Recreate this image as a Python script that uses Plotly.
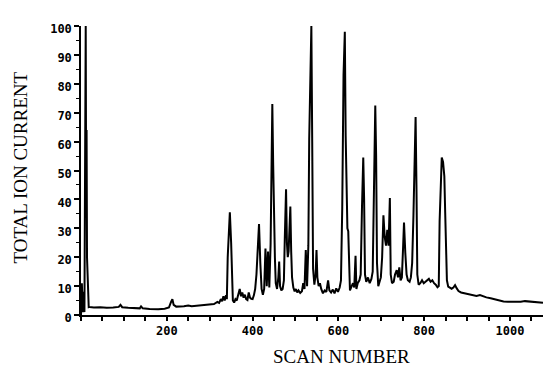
import plotly.graph_objects as go

# Total ion current chromatogram: scan number vs. relative intensity (%)
scan = [
    0, 2, 4, 6, 8, 11, 12, 13, 14, 15, 16, 18,
    20, 30, 45, 60, 75, 88, 92, 96, 110, 125, 137, 140, 144, 160, 180, 195,
    205, 210, 213, 216, 222, 240, 250, 258, 270, 285, 300, 310, 318, 322,
    326, 329, 332, 335, 338, 340, 342, 344, 347, 350, 352, 354, 357, 360,
    363, 367, 370, 373, 376, 379, 382, 385, 388, 391, 394, 397, 400, 403,
    406, 409, 412, 415, 418, 421, 424, 427, 430, 433, 436, 439, 442, 444,
    446, 448, 450, 452, 454, 457, 460, 462, 464, 467, 470, 473, 475, 478,
    480, 482, 484, 486, 488, 490, 492, 495, 498, 501, 504, 507, 511, 515,
    518, 521, 524, 527, 530, 532, 535, 537, 539, 541, 544, 547, 549, 551,
    554, 557, 560, 564, 568, 572, 576, 579, 583, 587, 591, 595, 599, 603,
    606, 609, 612, 615, 617, 619, 621, 623, 625, 627, 631, 634, 637, 640,
    642, 645, 649, 652, 655, 658, 660, 662, 665, 669, 673, 677, 680, 683,
    686, 688, 690, 693, 696, 699, 702, 705, 708, 711, 714, 717, 720, 722,
    725, 729, 732, 736, 739, 742, 745, 748, 751, 753, 756, 759, 762, 766,
    769, 772, 775, 778, 780, 782, 784, 787, 791, 795, 799, 803, 807, 811,
    815, 819, 823, 827, 831, 834, 836, 839, 841, 844, 847, 849, 851, 853,
    856, 860, 864, 868, 872, 876, 880, 886, 893, 900, 908, 915, 922, 930,
    937, 945, 955, 965, 975, 985, 995, 1005, 1015, 1025, 1035, 1045, 1055,
    1065, 1077,
]
tic = [
    0, 11, 1, 8, 1, 100, 40, 64, 20, 15, 5, 2.7,
    2.8, 2.6, 2.7, 2.5, 2.6, 2.8, 3.5, 2.7, 2.5, 2.4, 2.3, 3.0, 2.3, 2.1, 2.0, 2.2,
    2.6, 4.5, 5.5, 3.5, 2.9, 3.0, 3.3, 3.0, 3.2, 3.4, 3.6, 3.8, 4.5, 4.2,
    5.5, 4.8, 6.5, 5.0, 6.8, 5.5, 20, 26, 35.5, 25, 12, 5, 4.3, 5.5,
    5.0, 7.5, 9, 6.5, 7.8, 6.0, 7.0, 5.5, 5.2, 7.8, 6.0, 5.6, 5.5, 6.8,
    9, 14, 22, 31.5, 18, 9, 7, 9, 23, 10, 22, 9.5, 24.5, 56,
    73, 52, 30, 20, 11, 9, 13, 18.5, 10, 8.5, 9, 12, 26, 43.5,
    25, 20, 22, 31, 37.5, 22, 13, 9.5, 8.2, 9.0, 7.8, 8.5, 7.6, 8.2,
    11, 9, 22.5, 10, 24, 61, 85, 100, 60, 16, 10.5, 14, 22.5, 13,
    10, 11, 9, 7.5, 8.5, 8, 12, 8.5, 7.8, 8.8, 7.5, 9.2, 8.0, 9.5,
    12, 37, 83, 98, 62, 47, 30, 29, 14, 8.5, 10, 11, 9.5, 20.5,
    9, 11, 12, 14, 37, 54.5, 40, 14, 11.5, 13, 11, 12.5, 15, 47.5,
    72.5, 55, 18, 10, 11.5, 13, 20, 34.5, 27, 24, 29.5, 24, 40.5, 14,
    11, 11.5, 14, 15.5, 13, 16.5, 12, 13, 24, 32, 21.5, 14, 12, 11.5,
    13, 18, 34.5, 55, 68.5, 45, 14, 10.5, 11, 12, 11, 11.5, 12, 12.5,
    11.5, 12, 11, 10.5, 9.6, 10, 32.5, 48, 54.5, 53, 48, 35.5, 21.5, 12,
    9.8, 9.3, 9.1, 9.5, 10.3, 9.2, 8.3, 7.8, 7.6, 7.3, 7.0, 6.8, 6.6, 6.9,
    6.5, 6.1, 5.8, 5.4, 5.0, 4.7, 4.6, 4.6, 4.5, 4.6, 4.8, 4.6, 4.5,
    4.4, 4.2,
]

x_tick_values = [200, 400, 600, 800, 1000]
x_tick_labels = ["200", "400", "600", "800", "1000"]
y_tick_values = [0, 10, 20, 30, 40, 50, 60, 70, 80, 90, 100]
y_tick_labels = ["0", "10", "20", "30", "40", "50", "60", "70", "80", "90", "100"]

tick_font = dict(family="DejaVu Sans Mono", size=12, color="black", weight="bold")
title_font = dict(family="Liberation Serif", size=19, color="black")

fig = go.Figure(
    go.Scatter(
        x=scan, y=tic, mode="lines",
        line=dict(color="black", width=2),
        hoverinfo="skip",
    )
)

fig.update_layout(
    width=543, height=367,
    margin=dict(l=81, r=0, t=26, b=52),
    paper_bgcolor="white", plot_bgcolor="white",
    showlegend=False,
    xaxis=dict(
        range=[0, 1077], showgrid=False, zeroline=False,
        showline=True, linecolor="black", linewidth=2,
        ticks="outside", ticklen=4, tickwidth=1.5, tickcolor="black",
        tickvals=x_tick_values, ticktext=x_tick_labels,
        tickfont=tick_font,
        minor=dict(dtick=50, tick0=0, ticks="outside", ticklen=4,
                   tickwidth=1.5, tickcolor="black", showgrid=False),
    ),
    yaxis=dict(
        range=[0, 100], showgrid=False, zeroline=False,
        showline=True, linecolor="black", linewidth=1.5,
        ticks="outside", ticklen=5, tickwidth=1.5, tickcolor="black",
        tickvals=y_tick_values, ticktext=y_tick_labels,
        tickfont=tick_font, ticklabelshift=3,
        minor=dict(dtick=5, tick0=0, ticks="outside", ticklen=3,
                   tickwidth=1.2, tickcolor="black", showgrid=False),
    ),
    annotations=[
        dict(text="TOTAL ION CURRENT", xref="paper", yref="paper",
             x=-0.13, y=0.51, xanchor="center", yanchor="middle",
             textangle=-90, showarrow=False, font=title_font),
        dict(text="SCAN NUMBER", xref="paper", yref="paper",
             x=0.563, y=-0.142, xanchor="center", yanchor="middle",
             showarrow=False, font=title_font),
    ],
)

fig.write_html("out.html")
